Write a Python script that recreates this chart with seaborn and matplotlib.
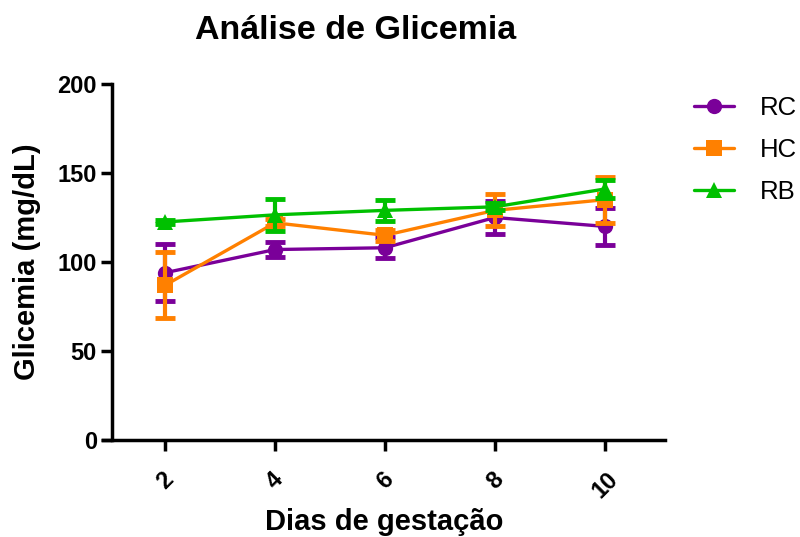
import matplotlib
matplotlib.use("Agg")
import matplotlib.pyplot as plt
import seaborn as sns
import pandas as pd
import numpy as np

days = [2, 4, 6, 8, 10]
series_names = ["RC", "HC", "RB"]
rc_mean = [94, 107, 108, 125, 120]
rc_err = [16, 4, 6, 9.5, 10.5]
hc_mean = [87, 122, 115, 129, 135]
hc_err = [18.5, 2, 3, 9, 13]
rb_mean = [122.5, 126.5, 129, 131, 141]
rb_err = [1, 9, 6, 2, 5]
colors = ["#7A0099", "#FF8000", "#00C000"]
markers = ["o", "s", "^"]

means = [rc_mean, hc_mean, rb_mean]
errs = [rc_err, hc_err, rb_err]

df = pd.DataFrame({
    "Dia": days * 3,
    "Glicemia": rc_mean + hc_mean + rb_mean,
    "Grupo": sum([[n] * len(days) for n in series_names], []),
})

sns.set_style("ticks")
plt.rcParams["font.family"] = ["Liberation Sans", "DejaVu Sans"]
plt.rcParams["font.weight"] = "bold"
for k in ["text.color", "axes.labelcolor", "xtick.color", "ytick.color", "axes.edgecolor"]:
    plt.rcParams[k] = "black"

fig = plt.figure(figsize=(8, 5.37), dpi=100)
ax = fig.add_axes([0.129, 0.1806, 0.7025, 0.663])

for i, name in enumerate(series_names):
    sub = df[df["Grupo"] == name]
    ax.errorbar(days, means[i], yerr=errs[i], fmt="none", ecolor=colors[i],
                elinewidth=3, capsize=7, capthick=3.5, zorder=2 + i)
    sns.lineplot(data=sub, x="Dia", y="Glicemia", ax=ax, color=colors[i],
                 marker=markers[i], markersize=11, markeredgewidth=0,
                 linewidth=2.4, label=name, zorder=2 + i)

ax.set_xlim(0.871, 11.1)
ax.set_ylim(0, 200)
ax.spines["left"].set_position(("data", 1.035))
ax.set_xticks(days)
ax.set_yticks([0, 50, 100, 150, 200])
ax.set_xticklabels([str(d) for d in days], rotation=45, fontsize=17, fontweight="bold")
ax.set_yticklabels(["0", "50", "100", "150", "200"], fontsize=17, fontweight="bold")
ax.tick_params(axis="both", width=2.5, length=8, direction="out")
ax.tick_params(axis="x", pad=12)
ax.tick_params(axis="y", pad=3)
for s in ["left", "bottom"]:
    ax.spines[s].set_linewidth(2.5)
for s in ["top", "right"]:
    ax.spines[s].set_visible(False)

ax.set_xlabel("Dias de gestação", fontsize=21, fontweight="bold", labelpad=4)
ax.set_ylabel("Glicemia (mg/dL)", fontsize=21, fontweight="bold", labelpad=12)
fig.text(0.444, 0.944, "Análise de Glicemia", fontsize=24.5, fontweight="bold",
         ha="center", va="center")

leg = fig.legend(*ax.get_legend_handles_labels(), loc="upper left",
                 bbox_to_anchor=(0.868, 0.822), frameon=False, borderpad=0,
                 borderaxespad=0, fontsize=18.5, handlelength=1.55,
                 labelspacing=0.7, handletextpad=1.0)
if ax.get_legend():
    ax.get_legend().remove()
for t in leg.get_texts():
    t.set_fontweight("normal")

fig.savefig("out.png", dpi=100)
